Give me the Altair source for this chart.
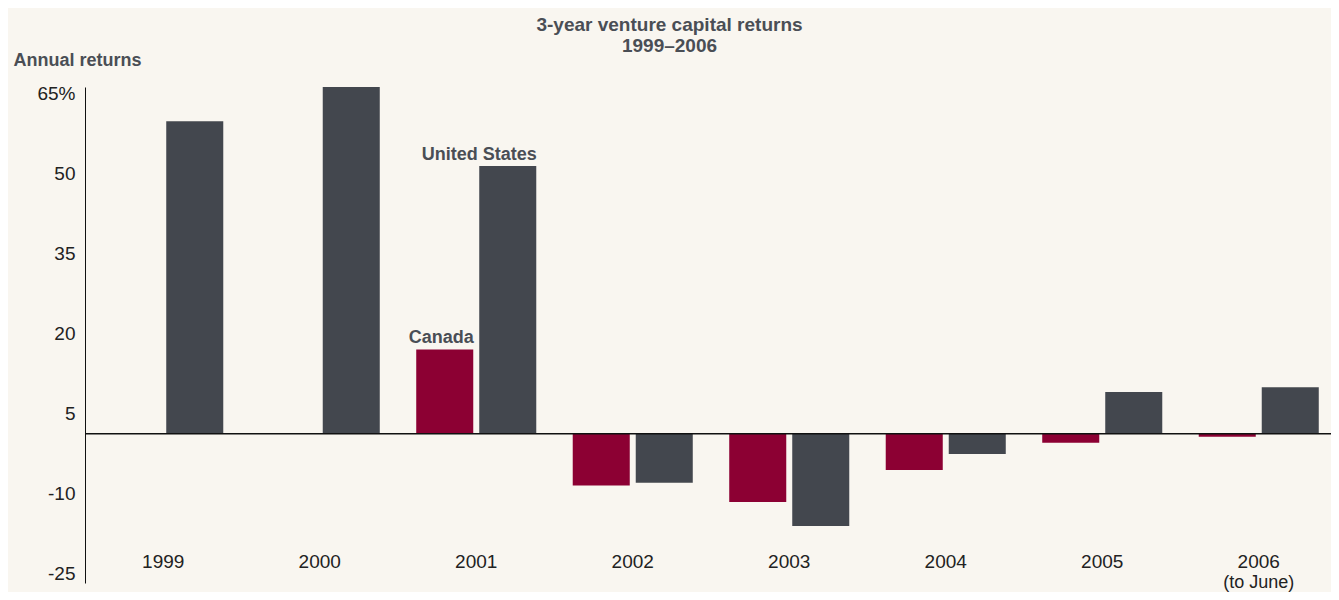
import altair as alt
import pandas as pd

years = ["1999", "2000", "2001", "2002", "2003", "2004", "2005", "2006"]
canada = [None, None, 15.8, -9.7, -12.8, -6.8, -1.7, -0.6]
united_states = [58.6, 65.0, 50.2, -9.2, -17.3, -3.8, 7.8, 8.7]
series_names = ["Canada", "United States"]
y_ticks = [65, 50, 35, 20, 5, -10, -25]
title_lines = ["3-year venture capital returns", "1999–2006"]
sub_labels = {"2006": "(to June)"}

rows = []
for i, yr in enumerate(years):
    if canada[i] is not None:
        rows.append({"year": yr, "series": "Canada", "value": canada[i]})
    if united_states[i] is not None:
        rows.append({"year": yr, "series": "United States", "value": united_states[i]})
df = pd.DataFrame(rows)

ann = pd.DataFrame([
    {"year": "2001", "series": "Canada", "value": canada[2], "label": "Canada"},
    {"year": "2001", "series": "United States", "value": united_states[2], "label": "United States"},
])
year_df = pd.DataFrame({"year": years})
sub_df = pd.DataFrame({"year": list(sub_labels.keys()), "label": list(sub_labels.values())})

FONT = "Liberation Sans"
TEXT_GRAY = "#4a4e55"
LABEL_COLOR = "#222222"

x_scale = alt.Scale(domain=years, paddingInner=0.233, paddingOuter=0.1165)
xo_scale = alt.Scale(domain=series_names, paddingInner=0.095, paddingOuter=0)
y_scale = alt.Scale(domain=[-28, 65], nice=False, zero=False)

x_enc = alt.X("year:N", scale=x_scale, axis=None)

bars = alt.Chart(df).mark_bar().encode(
    x=x_enc,
    xOffset=alt.XOffset("series:N", scale=xo_scale),
    y=alt.Y(
        "value:Q",
        scale=y_scale,
        axis=alt.Axis(
            values=y_ticks,
            grid=False,
            ticks=False,
            domain=True,
            domainColor="#111111",
            domainWidth=1,
            labelFont=FONT,
            labelFontSize=19,
            labelColor=LABEL_COLOR,
            labelPadding=10,
            labelOffset=6,
            labelBaseline="middle",
            labelExpr="datum.value == 65 ? '65%' : '' + datum.value",
            title="Annual returns",
            titleFont=FONT,
            titleFontSize=18,
            titleFontWeight="bold",
            titleColor=TEXT_GRAY,
            titleAngle=0,
            titleAlign="left",
            titleBaseline="middle",
            titleX=-72,
            titleY=-27,
        ),
    ),
    y2=alt.datum(0),
    color=alt.Color(
        "series:N",
        scale=alt.Scale(domain=series_names, range=["#8C0033", "#43474E"]),
        legend=None,
    ),
)

zero_rule = alt.Chart(pd.DataFrame({"v": [0]})).mark_rule(
    color="#111111", strokeWidth=1.5
).encode(y=alt.Y("v:Q", scale=y_scale))

ann_text = alt.Chart(ann).mark_text(
    font=FONT, fontSize=18, fontWeight="bold", color=TEXT_GRAY,
    align="right", baseline="alphabetic", dx=29, dy=-6
).encode(
    x=x_enc,
    xOffset=alt.XOffset("series:N", scale=xo_scale),
    y=alt.Y("value:Q", scale=y_scale),
    text="label:N",
)

year_text = alt.Chart(year_df).mark_text(
    font=FONT, fontSize=19, color=LABEL_COLOR, baseline="middle"
).encode(
    x=x_enc,
    y=alt.value(475),
    text="year:N",
)

sub_text = alt.Chart(sub_df).mark_text(
    font=FONT, fontSize=18, color=LABEL_COLOR, baseline="middle"
).encode(
    x=x_enc,
    y=alt.value(496),
    text="label:N",
)

title1 = alt.Chart(pd.DataFrame({"t": [title_lines[0]]})).mark_text(
    font=FONT, fontSize=19, fontWeight="bold", color=TEXT_GRAY, baseline="middle", align="center"
).encode(x=alt.value(584.5), y=alt.value(-62), text="t:N")

title2 = alt.Chart(pd.DataFrame({"t": [title_lines[1]]})).mark_text(
    font=FONT, fontSize=19, fontWeight="bold", color=TEXT_GRAY, baseline="middle", align="center"
).encode(x=alt.value(584.5), y=alt.value(-41), text="t:N")

chart = alt.layer(
    bars, zero_rule, ann_text, year_text, sub_text, title1, title2
).properties(
    width=1252,
    height=496,
    background="#F9F6F0",
    autosize=alt.AutoSizeParams(type="none"),
    padding={"left": 77, "top": 79, "right": -6, "bottom": 9},
).configure_view(stroke=None)

chart.save("out.html", embed_options={"renderer": "svg", "actions": False})
